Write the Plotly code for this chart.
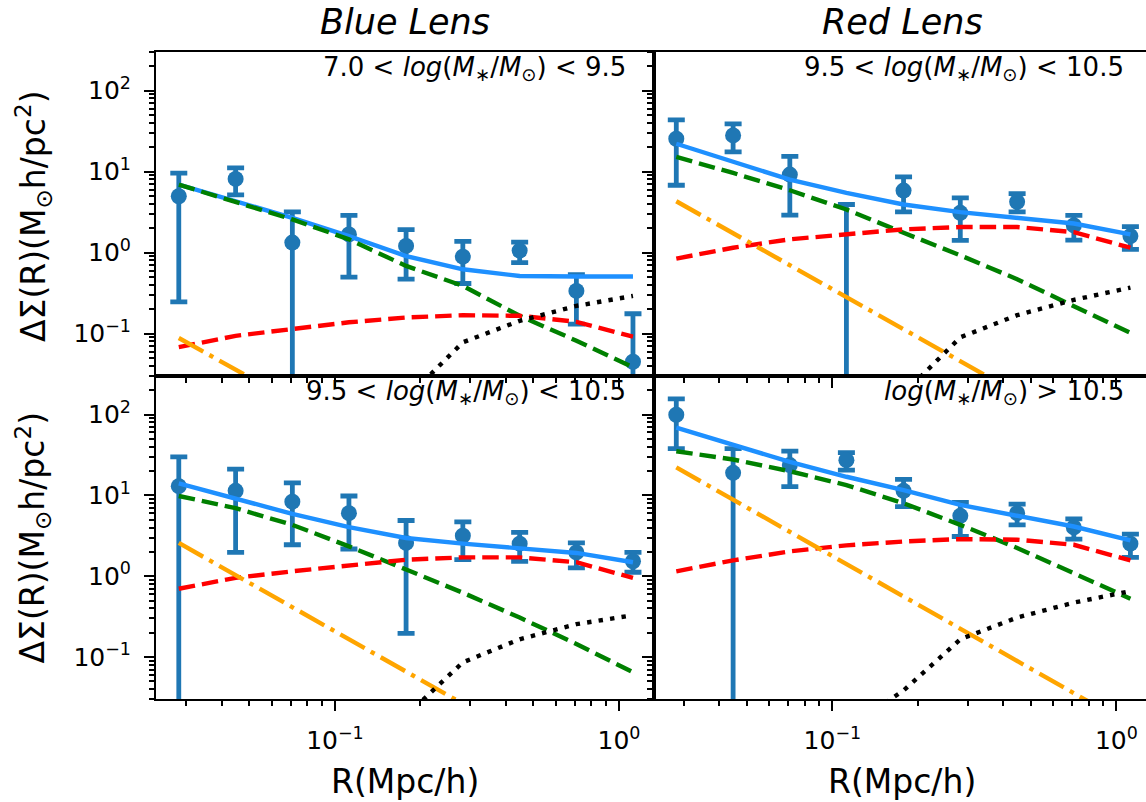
import plotly.graph_objects as go

# ---------------- data ----------------
R = [0.0282, 0.0447, 0.0708, 0.112, 0.178, 0.282, 0.447, 0.708, 1.12]

# top-left: Blue lens, 7.0 < log M < 9.5
tl_y = [4.97, 8.13, 1.33, 1.68, 1.21, 0.893, 1.06, 0.337, 0.045]
tl_hi = [9.6, 11.1, 3.19, 2.88, 1.92, 1.38, 1.35, 0.536, 0.176]
tl_lo = [0.247, 5.17, 0, 0.50, 0.47, 0.416, 0.753, 0.131, 0]
tl_total = [6.92, 4.32, 2.69, 1.60, 0.908, 0.623, 0.515, 0.507, 0.507]
tl_green = [6.92, 4.24, 2.57, 1.46, 0.685, 0.389, 0.166, 0.0818, 0.0385]
tl_red = [0.068, 0.094, 0.114, 0.138, 0.158, 0.169, 0.166, 0.140, 0.0916]
tl_orange = [0.0883, 0.0360, 0.0147, 0.00597, 0.00243, 0.00099, 0.000404, 0.000164, 0.000067]
tl_black = [None, None, None, None, 0.0157, 0.0782, 0.144, 0.220, 0.292]

# top-right: Red lens, 9.5 < log M < 10.5
tr_y = [25.5, 28.0, 9.19, 0.001, 5.84, 3.10, 4.24, 2.17, 1.60]
tr_hi = [43.6, 38.9, 15.4, 3.93, 8.6, 4.75, 5.36, 2.88, 2.09]
tr_lo = [6.79, 17.5, 2.90, 0, 3.19, 1.42, 3.19, 1.43, 1.10]
tr_total = [22.1, 13.4, 7.97, 5.47, 3.93, 3.16, 2.69, 2.29, 1.68]
tr_green = [15.2, 9.64, 5.89, 3.41, 1.76, 0.927, 0.47, 0.220, 0.102]
tr_red = [0.844, 1.15, 1.46, 1.68, 1.94, 2.07, 2.07, 1.79, 1.15]
tr_orange = [4.31, 1.74, 0.70, 0.282, 0.114, 0.046, 0.0186, 0.0075, 0.003]
tr_black = [None, None, None, None, 0.0181, 0.090, 0.169, 0.261, 0.371]

# bottom-left: Blue lens, 9.5 < log M < 10.5
bl_y = [13.0, 11.4, 8.36, 6.03, 2.58, 3.17, 2.53, 1.97, 1.53]
bl_hi = [29.9, 21.1, 14.3, 9.83, 4.89, 4.71, 3.48, 2.58, 1.97]
bl_lo = [0, 1.97, 2.45, 2.17, 0.196, 1.60, 1.53, 1.27, 1.12]
bl_total = [14.1, 9.2, 5.9, 4.05, 2.97, 2.53, 2.24, 1.94, 1.49]
bl_green = [9.83, 6.94, 4.32, 2.34, 1.21, 0.625, 0.308, 0.145, 0.0648]
bl_red = [0.70, 0.955, 1.15, 1.35, 1.60, 1.71, 1.71, 1.49, 0.955]
bl_orange = [2.58, 1.03, 0.412, 0.164, 0.0655, 0.026, 0.0104, 0.0042, 0.0017]
bl_black = [None, None, None, None, 0.0188, 0.086, 0.166, 0.255, 0.329]

# bottom-right: Red lens, log M > 10.5
br_y = [99.4, 19.0, 23.7, 27.3, 11.4, 5.58, 6.03, 4.01, 2.53]
br_hi = [156, 37.9, 35.2, 33.9, 15.8, 8.18, 7.78, 5.13, 3.32]
br_lo = [37.9, 0, 12.8, 20.5, 7.26, 3.10, 4.32, 2.88, 1.71]
br_total = [68.8, 41.7, 26.0, 17.0, 11.6, 7.62, 5.58, 4.12, 2.77]
br_green = [35.2, 27.8, 19.9, 13.4, 8.0, 4.32, 2.24, 1.10, 0.527]
br_red = [1.15, 1.57, 2.03, 2.41, 2.69, 2.88, 2.83, 2.45, 1.57]
br_orange = [22.2, 8.86, 3.54, 1.41, 0.562, 0.224, 0.0896, 0.0357, 0.0143]
br_black = [None, None, None, 0.013, 0.0385, 0.166, 0.308, 0.471, 0.654]

col_titles = ["Blue Lens", "Red Lens"]
panel_labels = [
    "7.0 < <i>log</i>(<i>M</i><sub>∗</sub>/<i>M</i><sub>⊙</sub>) < 9.5",
    "9.5 < <i>log</i>(<i>M</i><sub>∗</sub>/<i>M</i><sub>⊙</sub>) < 10.5",
    "9.5 < <i>log</i>(<i>M</i><sub>∗</sub>/<i>M</i><sub>⊙</sub>) < 10.5",
    "<i>log</i>(<i>M</i><sub>∗</sub>/<i>M</i><sub>⊙</sub>) > 10.5",
]
ylabel = "ΔΣ(R)(M<sub>⊙</sub>h/pc<sup>2</sup>)"
xlabel = "R(Mpc/h)"

y_major = [0.1, 1, 10, 100]
y_major_text = ["10<sup>−1</sup>", "10<sup>0</sup>", "10<sup>1</sup>", "10<sup>2</sup>"]
x_major = [0.1, 1]
x_major_text = ["10<sup>−1</sup>", "10<sup>0</sup>"]

# ---------------- layout geometry ----------------
W, H = 1146, 802
def px(x):
    return x / W
def py(y):
    return 1 - y / H

xl_dom = [px(156), px(653.5)]
xr_dom = [px(653.5), 1.0]
yt_dom = [py(376), py(52)]
yb_dom = [py(699.3), py(376)]

x_range_l = [-1.630, 0.1215]
x_range_r = [-1.630, 0.1041]
y_range = [-1.5229, 2.4771]

y_minor = [m * 10 ** e for e in (-2, -1, 0, 1, 2) for m in range(2, 10)]
y_minor = [v for v in y_minor if 0.03 <= v <= 300]
x_minor = [m * 10 ** e for e in (-2, -1, 0) for m in range(2, 10)]
x_minor = [v for v in x_minor if 0.025 <= v <= 1.3]

FONT = "DejaVu Sans"
C_DATA = "#1f77b4"

fig = go.Figure()

panels = [
    ("x", "y", tl_y, tl_hi, tl_lo, tl_total, tl_green, tl_red, tl_orange, tl_black),
    ("x2", "y2", tr_y, tr_hi, tr_lo, tr_total, tr_green, tr_red, tr_orange, tr_black),
    ("x3", "y3", bl_y, bl_hi, bl_lo, bl_total, bl_green, bl_red, bl_orange, bl_black),
    ("x4", "y4", br_y, br_hi, br_lo, br_total, br_green, br_red, br_orange, br_black),
]

LW = 4.4
for xa, ya, yv, hi, lo, tot, gr, rd, orng, blk in panels:
    plus = [h - v for h, v in zip(hi, yv)]
    minus = [v - l for v, l in zip(yv, lo)]
    fig.add_trace(go.Scatter(
        x=R, y=yv, xaxis=xa, yaxis=ya, mode="markers",
        marker=dict(color=C_DATA, size=16),
        error_y=dict(type="data", symmetric=False, array=plus, arrayminus=minus,
                     color=C_DATA, thickness=4.8, width=8.5),
        showlegend=False))
    fig.add_trace(go.Scatter(x=R, y=tot, xaxis=xa, yaxis=ya, mode="lines",
                             line=dict(color="#1e90ff", width=LW), showlegend=False))
    fig.add_trace(go.Scatter(x=R, y=gr, xaxis=xa, yaxis=ya, mode="lines",
                             line=dict(color="#008000", width=LW, dash="16.5px,7px"),
                             showlegend=False))
    fig.add_trace(go.Scatter(x=R, y=rd, xaxis=xa, yaxis=ya, mode="lines",
                             line=dict(color="#ff0000", width=LW, dash="16.5px,7px"),
                             showlegend=False))
    fig.add_trace(go.Scatter(x=R, y=orng, xaxis=xa, yaxis=ya, mode="lines",
                             line=dict(color="#ffa500", width=LW,
                                       dash="28px,7px,4.4px,7px"),
                             showlegend=False))
    fig.add_trace(go.Scatter(x=R, y=blk, xaxis=xa, yaxis=ya, mode="lines",
                             line=dict(color="black", width=LW, dash="4.4px,7.2px"),
                             connectgaps=False, showlegend=False))

tickfont = dict(family=FONT, size=25, color="black")

def xaxis(dom, rng, anchor, labels):
    return dict(type="log", domain=dom, range=rng, anchor=anchor,
                showgrid=False, zeroline=False, showline=True, linecolor="black",
                linewidth=2, mirror=True, ticks="outside", ticklen=10, tickwidth=2,
                tickcolor="black", tickmode="array", tickvals=x_major,
                ticktext=x_major_text, showticklabels=labels, tickfont=tickfont,
                ticklabelstandoff=8,
                minor=dict(tickmode="array", tickvals=x_minor, ticks="outside",
                           ticklen=5, tickwidth=1.5, tickcolor="black", showgrid=False))

def yaxis(dom, anchor, labels, mirror):
    return dict(type="log", domain=dom, range=y_range, anchor=anchor,
                showgrid=False, zeroline=False, showline=True, linecolor="black",
                linewidth=2, mirror=mirror, ticks="outside", ticklen=10, tickwidth=2,
                tickcolor="black", tickmode="array", tickvals=y_major,
                ticktext=y_major_text, showticklabels=labels, tickfont=tickfont,
                ticklabelstandoff=8,
                minor=dict(tickmode="array", tickvals=y_minor, ticks="outside",
                           ticklen=5, tickwidth=1.5, tickcolor="black", showgrid=False))

fig.update_layout(
    width=W, height=H, margin=dict(l=0, r=0, t=0, b=0),
    paper_bgcolor="white", plot_bgcolor="white",
    font=dict(family=FONT, color="black"),
    xaxis=xaxis(xl_dom, x_range_l, "y", False),
    xaxis2=xaxis(xr_dom, x_range_r, "y2", False),
    xaxis3=xaxis(xl_dom, x_range_l, "y3", True),
    xaxis4=xaxis(xr_dom, x_range_r, "y4", True),
    yaxis=yaxis(yt_dom, "x", True, True),
    yaxis2=yaxis(yt_dom, "x2", False, False),
    yaxis3=yaxis(yb_dom, "x3", True, True),
    yaxis4=yaxis(yb_dom, "x4", False, False),
)

ann = []
# column titles
for t, cx in zip(col_titles, [404.75, 902]):
    ann.append(dict(text="<i>%s</i>" % t, x=px(cx), y=py(22), xref="paper", yref="paper",
                    showarrow=False, xanchor="center", yanchor="middle",
                    font=dict(family=FONT, size=35, color="black")))
# panel labels
for t, (rx, cy) in zip(panel_labels, [(628, 68), (1126, 68), (628, 393), (1126, 393)]):
    ann.append(dict(text=t, x=px(rx), y=py(cy), xref="paper", yref="paper",
                    showarrow=False, xanchor="right", yanchor="middle",
                    font=dict(family=FONT, size=26, color="black")))
# y labels
for cy in [216, 537.5]:
    ann.append(dict(text=ylabel, x=px(33), y=py(cy), xref="paper", yref="paper",
                    showarrow=False, xanchor="center", yanchor="middle", textangle=-90,
                    font=dict(family=FONT, size=33, color="black")))
# x labels
for cx in [404.75, 902]:
    ann.append(dict(text=xlabel, x=px(cx), y=py(781), xref="paper", yref="paper",
                    showarrow=False, xanchor="center", yanchor="middle",
                    font=dict(family=FONT, size=33, color="black")))
fig.update_layout(annotations=ann)

fig.write_html("out.html")
